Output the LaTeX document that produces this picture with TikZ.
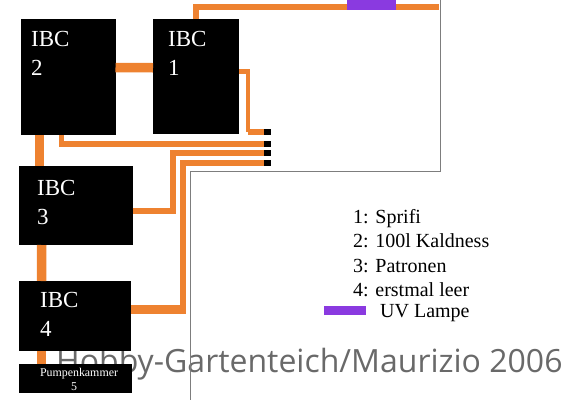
\documentclass[tikz,border=0pt]{standalone}
\usepackage{fontspec}
\setmainfont{Liberation Serif}
\newfontfamily\titlefont{Open Sans}
\definecolor{pipeorange}{RGB}{238,130,48}
\definecolor{uvpurple}{RGB}{138,58,224}
\definecolor{wallgray}{RGB}{125,125,125}
\definecolor{titlegray}{RGB}{105,105,105}
\tikzset{
  tank/.style={fill=black, draw=none, inner sep=0pt, outer sep=0pt, anchor=north west},
  port/.style={fill=black, draw=none, inner sep=0pt, outer sep=0pt, minimum width=7pt, minimum height=5.5pt},
  pipe/.style={draw=pipeorange, line width=5.5pt},
  widepipe/.style={draw=pipeorange, line width=9.5pt},
  wall/.style={draw=wallgray, line width=1pt},
  uvbar/.style={fill=uvpurple, draw=none, inner sep=0pt, outer sep=0pt},
  tanktext/.style={text=white, inner sep=0pt, anchor=base west, font=\fontsize{23}{23}\selectfont},
  smalltext/.style={text=white, inner sep=0pt, anchor=base, font=\fontsize{11.9}{12}\selectfont},
  legendtext/.style={text=black, inner sep=0pt, anchor=base west, font=\fontsize{20}{20}\selectfont}
}

\begin{document}
\begin{tikzpicture}[x=1pt, y=-1pt]
      \useasboundingbox (0,0) rectangle (566,400);
      \node[text=titlegray, inner sep=0pt, anchor=base west, font=\titlefont\fontsize{32}{32}\selectfont]
        (title) at (56,372) {Hobby-Gartenteich/Maurizio 2006};
      \draw[wall] (440,0) -- (440,171) -- (190,171) -- (190,400);

      % tanks
      \foreach \n/\x/\y/\w/\h in {
          2/21/19/94.5/116,
          1/153/19/86/114.5,
          3/19/166/113.5/79,
          4/19/281/112/70,
          5/19/364/113/29} {
        \node[tank, minimum width=\w pt, minimum height=\h pt] (ibc\n) at (\x,\y) {};
      }
      \foreach \n/\y in {1/132, 2/144, 3/153, 4/163} {
        \node[port] (port\n) at (267,\y) {};
      }
      \coordinate (wallend) at (439,7);
      \coordinate (bend1) at (248,132);
      \coordinate (bend4) at (183,309.5);

      % pipes
      \draw[widepipe] ([yshift=9.5pt]ibc2.east) -- ([yshift=8.5pt]ibc1.west);
      \draw[widepipe] ([xshift=-29pt]ibc2.south) -- ([xshift=-36.5pt]ibc3.north);
      \draw[widepipe] ([xshift=-34pt]ibc3.south) -- ([xshift=-33.5pt]ibc4.north);
      \draw[widepipe] ([xshift=-33.5pt]ibc4.south) -- ([xshift=-34pt]ibc5.north);
      \draw[pipe] (ibc1.north) |- (wallend);
      \node[uvbar, minimum width=49pt, minimum height=10pt] (uv) at (371.5,5) {};
      \draw[pipe, line width=4.5pt] ([yshift=5pt]ibc1.east) -- ++(9,0) |- (bend1);
      \draw[pipe, line width=6.5pt] (bend1) -- (port1.west);
      \draw[pipe] ([xshift=-7pt]ibc2.south) |- (port2.west);
      \draw[pipe] ([yshift=-5.5pt]ibc3.east) -- ++(40.5,0) |- (port3.west);
      \draw[widepipe] ([yshift=6.5pt]ibc4.east) -- (bend4);
      \draw[pipe] ([yshift=-4.5pt]bend4) |- (port4.west);

      % labels
      \foreach \n/\x/\y in {2/31/46, 1/168/46, 3/37/195, 4/40/307} {
        \node[tanktext] (name\n) at (\x,\y) {IBC};
        \node[tanktext] (num\n) at (\x,\y+29) {\n};
      }
      \node[smalltext] (name5) at (79,376) {Pumpenkammer};
      \node[smalltext] (num5) at (74,390) {5};

      % legend
      \foreach \n/\y/\t in {
          a/223/1: Sprifi,
          b/247/2: 100l Kaldness,
          c/272/3: Patronen,
          d/296/4: erstmal leer} {
        \node[legendtext] (legend\n) at (353,\y) {\t};
      }
      \node[legendtext] (legendu) at (380,317) {UV Lampe};
      \node[uvbar, minimum width=42pt, minimum height=9pt] (uvkey) at (345,310.5) {};
    \end{tikzpicture}
\end{document}
